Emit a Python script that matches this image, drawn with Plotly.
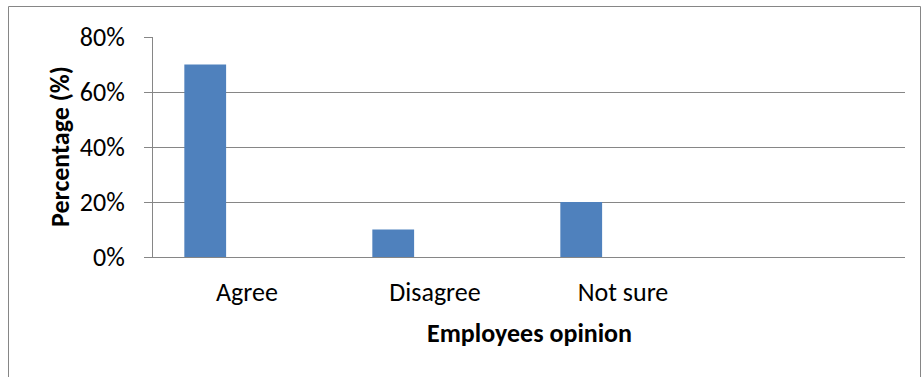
import plotly.graph_objects as go

categories = ["Agree", "Disagree", "Not sure", " "]
series1 = [0.70, 0.10, 0.20, None]
series2 = [None, None, None, None]
series3 = [None, None, None, None]
y_ticks = [0, 0.2, 0.4, 0.6, 0.8]
y_title = "Percentage (%)"
x_title = "Employees opinion"

W, H = 922, 377
L, R, T, B = 153, 905, 37, 257  # plot area in px
FONT = "Carlito, Calibri, Lato, sans-serif"
GRID = "#868686"
FS = 26

def px_x(p):
    return (p - L) / (R - L)

def px_y(p):
    return (B - p) / (B - T)

fig = go.Figure()
for s, name in [(series1, "S1"), (series2, "S2"), (series3, "S3")]:
    fig.add_trace(go.Bar(x=categories, y=s, name=name,
                         marker=dict(color="#4F81BD", line=dict(width=0))))

fig.update_layout(
    width=W, height=H,
    margin=dict(l=L, r=W - R, t=T, b=H - B, pad=0),
    paper_bgcolor="white", plot_bgcolor="white",
    barmode="group", bargap=1/3, bargroupgap=0,
    showlegend=False,
    font=dict(family=FONT, size=FS, color="black"),
    xaxis=dict(type="category", range=[-0.5, 3.5], showgrid=False,
               showline=True, linecolor=GRID, linewidth=1,
               ticks="", ticklabelstandoff=12,
               tickfont=dict(family=FONT, size=FS, color="black")),
    yaxis=dict(range=[0, 0.8], tickvals=y_ticks, tickformat=".0%",
               showgrid=True, gridcolor=GRID, gridwidth=1,
               zeroline=False, showline=True, linecolor=GRID, linewidth=1,
               ticks="outside", ticklen=8, tickcolor=GRID,
               ticklabelstandoff=14,
               tickfont=dict(family=FONT, size=FS, color="black")),
    shapes=[dict(type="rect", xref="paper", yref="paper",
                 x0=px_x(8.5), x1=px_x(920.5), y0=px_y(382), y1=px_y(6.5),
                 line=dict(color=GRID, width=1), fillcolor="rgba(0,0,0,0)",
                 layer="below")],
    annotations=[
        dict(text="<b>" + y_title + "</b>", xref="paper", yref="paper",
             x=px_x(60), y=px_y(147), xanchor="center", yanchor="middle",
             textangle=-90, showarrow=False,
             font=dict(family=FONT, size=FS, color="black")),
        dict(text="<b>" + x_title + "</b>", xref="paper", yref="paper",
             x=px_x(529), y=px_y(333), xanchor="center", yanchor="middle",
             showarrow=False,
             font=dict(family=FONT, size=FS, color="black")),
    ],
)

fig.write_html("out.html")
